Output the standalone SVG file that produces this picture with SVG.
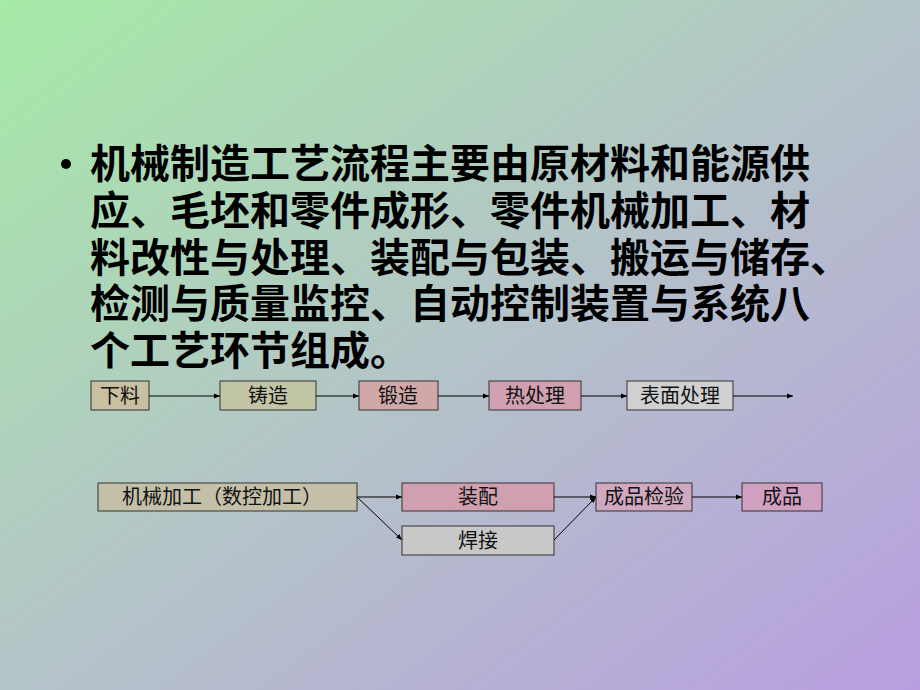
<svg xmlns="http://www.w3.org/2000/svg" width="920" height="690" viewBox="0 0 920 690">
<defs>
<linearGradient id="bg" x1="0" y1="0" x2="1" y2="1">
<stop offset="0" stop-color="#a6eaa6"/>
<stop offset="0.5" stop-color="#b4c4c8"/>
<stop offset="1" stop-color="#b89ee0"/>
</linearGradient>
<marker id="ah" viewBox="0 0 10 10" refX="10" refY="5" markerWidth="6" markerHeight="6" orient="auto"><path d="M0,1 L10,5 L0,9 z" fill="#000"/></marker>
<style>
.b{stroke:#333;stroke-width:1}
.t{font-family:"Noto Sans CJK SC","Liberation Sans",sans-serif;font-size:20px;text-anchor:middle;fill:#111}
.h{font-family:"Noto Sans CJK SC","Liberation Sans",sans-serif;font-size:40px;font-weight:bold;fill:#000}
.c line{stroke:#000;stroke-width:1;marker-end:url(#ah)}
</style>
</defs>
<rect width="920" height="690" fill="url(#bg)"/>
<circle cx="66" cy="164" r="5" fill="#000"/>
<text class="h" x="90" y="178">机械制造工艺流程主要由原材料和能源供</text>
<text class="h" x="90" y="225">应、毛坯和零件成形、零件机械加工、材</text>
<text class="h" x="90" y="272">料改性与处理、装配与包装、搬运与储存、</text>
<text class="h" x="90" y="318">检测与质量监控、自动控制装置与系统八</text>
<text class="h" x="90" y="365">个工艺环节组成。</text>
<g id="n1"><rect class="b" x="91" y="381" width="58" height="29" fill="#c8c0a0"/><text class="t" x="120" y="403">下料</text></g>
<g id="n2"><rect class="b" x="220" y="381" width="96" height="29" fill="#c2c4a6"/><text class="t" x="268" y="403">铸造</text></g>
<g id="n3"><rect class="b" x="359" y="381" width="79" height="29" fill="#d0a8a8"/><text class="t" x="398" y="403">锻造</text></g>
<g id="n4"><rect class="b" x="489" y="381" width="92" height="29" fill="#d0a0b0"/><text class="t" x="535" y="403">热处理</text></g>
<g id="n5"><rect class="b" x="627" y="381" width="106" height="29" fill="#d0d0d0"/><text class="t" x="680" y="403">表面处理</text></g>
<g id="n6"><rect class="b" x="98" y="483" width="259" height="28" fill="#c4c0a8"/><text class="t" x="222" y="504">机械加工（数控加工）</text></g>
<g id="n7"><rect class="b" x="402" y="483" width="152" height="28" fill="#d0a0b0"/><text class="t" x="478" y="504">装配</text></g>
<g id="n8"><rect class="b" x="402" y="526" width="152" height="29" fill="#c8c8c8"/><text class="t" x="478" y="548">焊接</text></g>
<g id="n9"><rect class="b" x="596" y="483" width="96" height="28" fill="#d0a8c0"/><text class="t" x="644" y="504">成品检验</text></g>
<g id="n10"><rect class="b" x="742" y="483" width="80" height="28" fill="#d0a0c0"/><text class="t" x="782" y="504">成品</text></g>
<g class="c" id="connectors">
<line x1="149" y1="396" x2="220" y2="396"/>
<line x1="316" y1="396" x2="359" y2="396"/>
<line x1="438" y1="396" x2="489" y2="396"/>
<line x1="581" y1="396" x2="627" y2="396"/>
<line x1="733" y1="396" x2="793" y2="396"/>
<line x1="357" y1="497" x2="402" y2="497"/>
<line x1="357" y1="497" x2="402" y2="540"/>
<line x1="554" y1="497" x2="596" y2="497"/>
<line x1="554" y1="540" x2="596" y2="497"/>
<line x1="692" y1="497" x2="742" y2="497"/>
</g>
</svg>
